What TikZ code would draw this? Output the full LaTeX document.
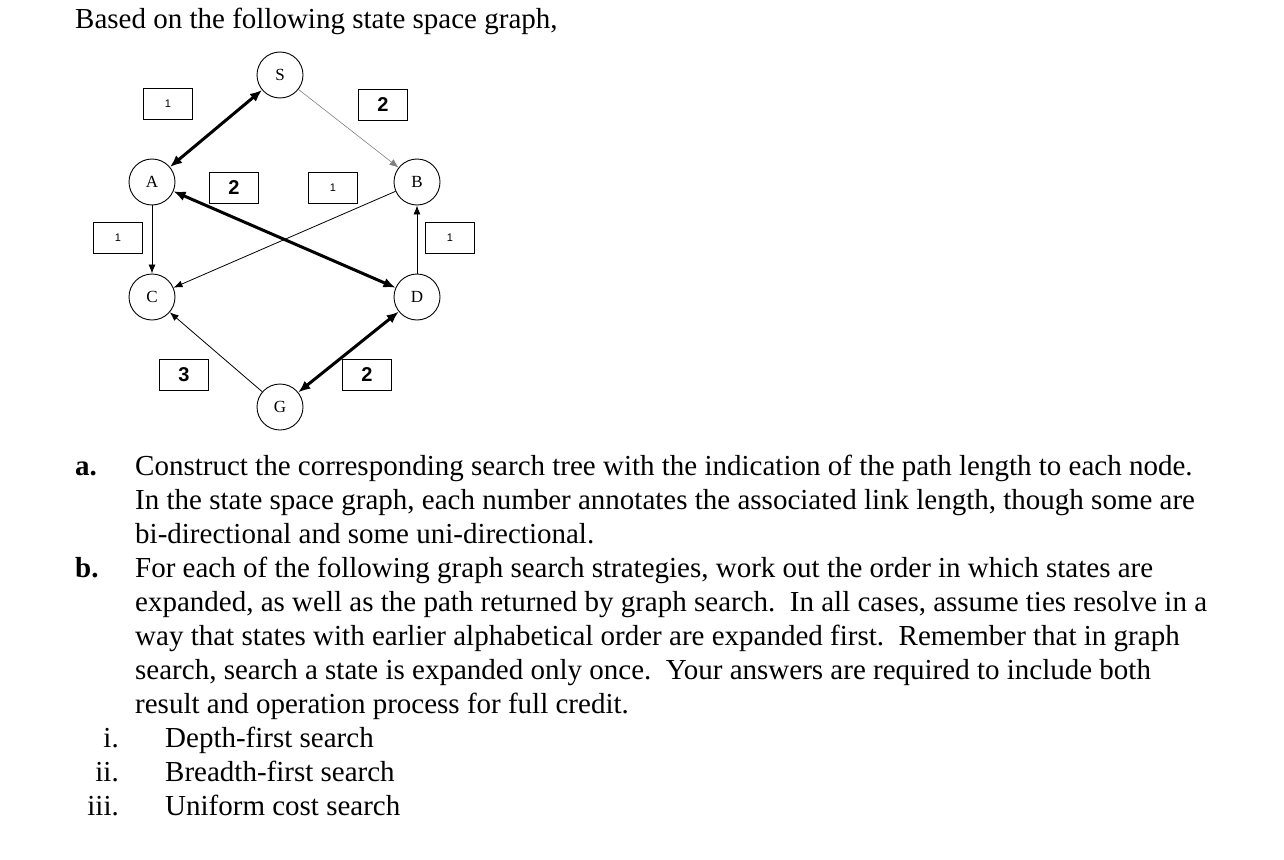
\documentclass[tikz,border=0pt]{standalone}
\usepackage{fontspec}
\setmainfont{Liberation Serif}
\setsansfont{Liberation Sans}
\usetikzlibrary{arrows.meta}
\begin{document}
\begin{tikzpicture}[x=1pt,y=-1pt,
  st/.style={circle,draw,line width=0.9pt,minimum size=46pt,inner sep=0pt,font=\fontsize{17}{17}\selectfont},
  wbox/.style={draw,line width=0.9pt,minimum width=49pt,minimum height=31pt,inner sep=0pt},
  thin1/.style={font=\sffamily\fontsize{11}{11}\selectfont},
  big1/.style={font=\sffamily\bfseries\fontsize{20}{20}\selectfont},
  edge/.style={draw,line width=0.8pt,-{Latex[length=9pt,width=7pt]}},
  bold2/.style={draw,line width=3pt,{Latex[length=12pt,width=10pt]}-{Latex[length=12pt,width=10pt]}},
  txt/.style={anchor=base west,inner sep=0pt,font=\fontsize{29}{29}\selectfont}]
\useasboundingbox (0,0) rectangle (1284,859);
\node[txt] (title) at (75,29) {Based on the following state space graph,};
\node[st] (S) at (280,75) {S};
\node[st] (A) at (152,182) {A};
\node[st] (B) at (417,182) {B};
\node[st] (C) at (152,297) {C};
\node[st] (D) at (417,297) {D};
\node[st] (G) at (280,407) {G};
\draw[bold2] (A) -- (S);
\draw[edge,gray,line width=0.6pt] (S) -- (B);
\draw[edge] (A) -- (C);
\draw[edge] (B) -- (C);
\draw[bold2] (A) -- (D);
\draw[edge] (D) -- (B);
\draw[edge] (G) -- (C);
\draw[bold2] (G) -- (D);
\node[wbox,thin1] (w1) at (168,104) {1};
\node[wbox,big1] (w2) at (383,105) {2};
\node[wbox,big1] (w3) at (234,188) {2};
\node[wbox,thin1] (w4) at (333,188) {1};
\node[wbox,thin1] (w5) at (118,238) {1};
\node[wbox,thin1] (w6) at (450,238) {1};
\node[wbox,big1] (w7) at (184,375) {3};
\node[wbox,big1] (w8) at (367,375) {2};
\node[txt,font=\bfseries\fontsize{29}{29}\selectfont] (la) at (75,475) {a.};
\node[txt] (a1) at (135,475) {Construct the corresponding search tree with the indication of the path length to each node.};
\node[txt] (a2) at (135,509) {In the state space graph, each number annotates the associated link length, though some are};
\node[txt] (a3) at (135,543) {bi-directional and some uni-directional.};
\node[txt,font=\bfseries\fontsize{29}{29}\selectfont] (lb) at (75,577) {b.};
\node[txt] (b1) at (135,577) {For each of the following graph search strategies, work out the order in which states are};
\node[txt] (b2) at (135,611) {expanded, as well as the path returned by graph search.\ \ In all cases, assume ties resolve in a};
\node[txt] (b3) at (135,645) {way that states with earlier alphabetical order are expanded first.\ \ Remember that in graph};
\node[txt] (b4) at (135,679) {search, search a state is expanded only once.\ \ Your answers are required to include both};
\node[txt] (b5) at (135,713) {result and operation process for full credit.};
\node[txt,anchor=base east] (l1) at (119,747) {i.};
\node[txt] (i1) at (165,747) {Depth-first search};
\node[txt,anchor=base east] (l2) at (119,781) {ii.};
\node[txt] (i2) at (165,781) {Breadth-first search};
\node[txt,anchor=base east] (l3) at (119,815) {iii.};
\node[txt] (i3) at (165,815) {Uniform cost search};
\end{tikzpicture}
\end{document}
